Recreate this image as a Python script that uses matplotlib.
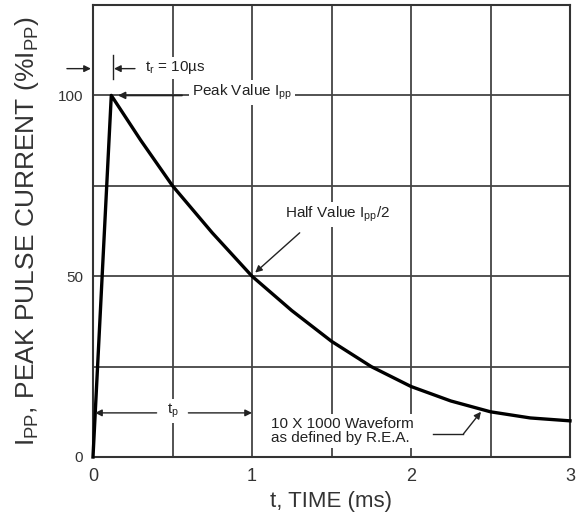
import matplotlib
matplotlib.use("Agg")
import matplotlib.pyplot as plt
from matplotlib.ticker import FixedLocator

plt.rcParams['font.family'] = ['Liberation Sans', 'DejaVu Sans']
plt.rcParams['mathtext.fontset'] = 'custom'
plt.rcParams['mathtext.rm'] = 'Liberation Sans'
plt.rcParams['mathtext.it'] = 'Liberation Sans'

# Data (10 x 1000 us pulse waveform)
t_ms = [0.0, 0.115, 0.3, 0.5, 0.75, 1.0, 1.25, 1.5, 1.75, 2.0, 2.25, 2.5, 2.75, 3.0]
current_pct = [0, 100, 87.6, 75, 62, 50, 40.5, 32, 25, 19.5, 15.5, 12.5, 10.8, 10]

x_ticks = [0, 1, 2, 3]
x_ticklabels = ['0', '1', '2', '3']
y_ticks = [0, 50, 100]
y_ticklabels = ['0', '50', '100']
x_grid = [0.5, 1.0, 1.5, 2.0, 2.5]
y_grid = [25, 50, 75, 100]

grid_color = '#444444'
txt_color = '#222222'

fig = plt.figure(figsize=(5.81, 5.21), dpi=100)
ax = fig.add_axes([93/581, 64/521, (570-93)/581, (457-5)/521])
ax.set_xlim(0, 3)
ax.set_ylim(0, 125)

ax.xaxis.set_major_locator(FixedLocator(x_ticks))
ax.set_xticklabels(x_ticklabels)
ax.yaxis.set_major_locator(FixedLocator(y_ticks))
ax.set_yticklabels(y_ticklabels)
ax.tick_params(axis='x', length=0, pad=8, labelsize=13, colors='#333333')
ax.tick_params(axis='y', length=0, pad=7, labelsize=11, colors='#333333')

for gx in x_grid:
    ax.axvline(gx, color=grid_color, lw=1.3, zorder=1)
for gy in y_grid:
    ax.axhline(gy, color=grid_color, lw=1.3, zorder=1)

for s in ax.spines.values():
    s.set_linewidth(1.5)
    s.set_color('#333333')

ax.plot(t_ms, current_pct, color='black', lw=2.4, zorder=3, clip_on=False)

ax.set_xlabel('t, TIME (ms)', fontsize=16, color='#333333', labelpad=4)
ax.set_ylabel(r'I$_{\mathrm{PP}}$, PEAK PULSE CURRENT (%I$_{\mathrm{PP}}$)', fontsize=19,
              color='#333333', labelpad=12)

bbox = dict(facecolor='white', edgecolor='none', pad=2)
arrow_kw = dict(arrowstyle='-|>', color='#222222', lw=1.0, mutation_scale=10, shrinkA=0, shrinkB=0)

# t_r annotation
ax.annotate('', xy=(-0.013, 107.4), xytext=(-0.164, 107.4), arrowprops=arrow_kw, annotation_clip=False)
ax.annotate('', xy=(0.132, 107.4), xytext=(0.264, 107.4), arrowprops=arrow_kw, annotation_clip=False)
ax.plot([0.126, 0.126], [104.4, 111.3], color='#222222', lw=1.0, zorder=4)
ax.text(0.327, 107.6, r't$_{\mathrm{r}}$ = 10µs', fontsize=11, color=txt_color,
        va='center', ha='left', bbox=bbox, zorder=5)

# Peak value
ax.annotate('', xy=(0.157, 100), xytext=(0.56, 100), arrowprops=dict(arrow_kw, lw=1.3), zorder=4)
ax.text(0.623, 100.8, r'Peak Value I$_{\mathrm{pp}}$', fontsize=11, color=txt_color,
        va='center', ha='left', bbox=bbox, zorder=5)

# Half value
ax.text(1.21, 67, r'Half Value I$_{\mathrm{pp}}$/2', fontsize=11, color=txt_color,
        va='center', ha='left', bbox=bbox, zorder=5)
ax.annotate('', xy=(1.02, 51), xytext=(1.30, 62.0), arrowprops=arrow_kw, zorder=4)

# t_p
ax.annotate('', xy=(0.013, 12.2), xytext=(0.40, 12.2), arrowprops=arrow_kw, zorder=4)
ax.annotate('', xy=(1.0, 12.2), xytext=(0.60, 12.2), arrowprops=arrow_kw, zorder=4)
ax.text(0.5, 12.8, r't$_{\mathrm{p}}$', fontsize=11, color=txt_color,
        va='center', ha='center', bbox=bbox, zorder=5)

# Waveform note
ax.text(1.12, 7.2, '10 X 1000 Waveform\nas defined by R.E.A.', fontsize=11, color=txt_color,
        va='center', ha='left', bbox=bbox, zorder=5, linespacing=1.0)
ax.plot([2.14, 2.33], [6.4, 6.4], color='#222222', lw=1.0, zorder=4)
ax.annotate('', xy=(2.44, 12.5), xytext=(2.33, 6.4), arrowprops=arrow_kw, zorder=4)

fig.savefig('out.png', dpi=100)
